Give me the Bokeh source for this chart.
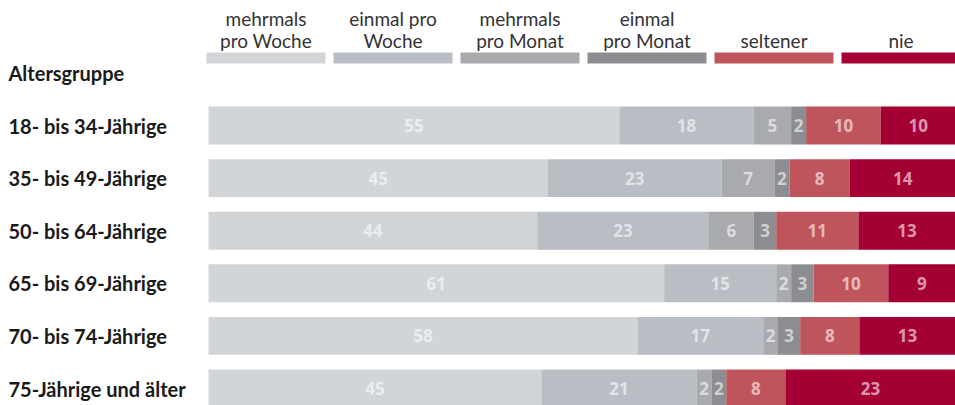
from bokeh.plotting import figure
from bokeh.models import Range1d, ColumnDataSource
from bokeh.core.properties import value
from bokeh.embed import file_html
from bokeh.resources import INLINE

groups = ["18- bis 34-Jährige", "35- bis 49-Jährige", "50- bis 64-Jährige",
          "65- bis 69-Jährige", "70- bis 74-Jährige", "75-Jährige und älter"]
series_line1 = ["mehrmals", "einmal pro", "mehrmals", "einmal", "", ""]
series_line2 = ["pro Woche", "Woche", "pro Monat", "pro Monat", "seltener", "nie"]
colors = ["#d1d5d8", "#b9bdc4", "#a9aaae", "#8c8d91", "#bf555c", "#a50034"]
mehrmals_woche = [55, 45, 44, 61, 58, 45]
einmal_woche = [18, 23, 23, 15, 17, 21]
mehrmals_monat = [5, 7, 6, 2, 2, 2]
einmal_monat = [2, 2, 3, 3, 3, 2]
seltener = [10, 8, 11, 10, 8, 8]
nie = [10, 14, 13, 9, 13, 23]
values = [mehrmals_woche, einmal_woche, mehrmals_monat, einmal_monat, seltener, nie]
title = "Altersgruppe"

W, H = 955, 405
PX = 7.47          # pixels per percent
X0 = -208 / PX     # left edge of plot in data units
ROW = 52.6         # pixels per row
Y_TOP = -125 / ROW
Y_BOT = (H - 125) / ROW

p = figure(width=W, height=H, output_backend="svg", toolbar_location=None,
           x_range=Range1d(X0, 100), y_range=Range1d(Y_BOT, Y_TOP),
           min_border=0, outline_line_color=None)
p.axis.visible = False
p.grid.visible = False

FONT = "Lato"

# bars
for gi, g in enumerate(groups):
    total = sum(v[gi] for v in values)
    left = 0.0
    for si, v in enumerate(values):
        w = v[gi] / total * 100
        src = ColumnDataSource(dict(l=[left], r=[left + w], y=[gi], t=[str(v[gi])], xm=[left + w / 2]))
        p.hbar(y="y", left="l", right="r", height=0.72, color=colors[si], line_color=None, source=src)
        p.text(x="xm", y="y", text="t", source=src, text_align="center", text_baseline="middle",
               text_font=value("Open Sans"), text_font_style="bold", text_font_size="17px",
               text_color="white", text_alpha=0.6)
        left += w

# category labels
p.text(x=[X0] * len(groups), y=list(range(len(groups))), text=groups, x_offset=8,
       text_align="left", text_baseline="middle", text_font=value(FONT),
       text_font_style="bold", text_font_size="20px", text_color="#1a1a1a")
p.text(x=[X0], y=[-1.0], text=[title], x_offset=8, text_align="left", text_baseline="middle",
       text_font=value(FONT), text_font_style="bold", text_font_size="20px", text_color="#1a1a1a")

# legend
slot = 127 / PX
pw = 119 / PX
lx0 = -2 / PX
ly = (57.5 - 125) / ROW
lefts = [lx0 + i * slot for i in range(len(series_line2))]
centers = [l + pw / 2 for l in lefts]
p.hbar(y=[ly] * len(series_line2), left=lefts, right=[l + pw for l in lefts], height=11 / ROW,
       color=colors, line_color=None)
p.text(x=centers, y=[(18 - 125) / ROW] * len(series_line1), text=series_line1,
       text_align="center", text_baseline="middle", text_font=value(FONT),
       text_font_size="19px", text_color="#333333")
p.text(x=centers, y=[(40 - 125) / ROW] * len(series_line2), text=series_line2,
       text_align="center", text_baseline="middle", text_font=value(FONT),
       text_font_size="19px", text_color="#333333")

open("out.html", "w").write(file_html(p, INLINE))
